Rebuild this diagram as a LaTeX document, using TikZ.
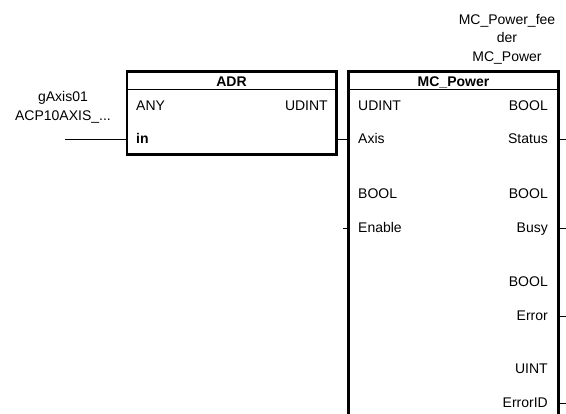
\documentclass[tikz,border=0pt]{standalone}
\usepackage{fontspec}
\setmainfont{Liberation Sans}
\begin{document}
\begin{tikzpicture}[x=1pt,y=-1pt,
  lbl/.style={inner sep=0pt,text height=10pt,text depth=0pt,font=\fontsize{14}{16}\selectfont},
  hdr/.style={lbl,font=\fontsize{14}{16}\selectfont\bfseries},
  fb/.style={draw,line width=1.4pt,inner sep=0pt},
  heavy/.style={line width=2.6pt},
  wire/.style={line width=0.9pt}]
\useasboundingbox (0,0) rectangle (566,414);
\clip (0,0) rectangle (566,414);
% ADR box
\node[fb,minimum width=209pt,minimum height=82pt] (adr) at (231.5,113) {};
\draw[heavy] (adr.north west) -- (adr.north east) -- (adr.south east) -- (adr.south west);
\draw[line width=1pt] (127,90) -- (336,90);
\node[hdr] (adrt) at (231.5,82) {ADR};
\node[lbl,anchor=west] (adrany) at (136,106) {ANY};
\node[lbl,anchor=east] (adrud) at (328,106) {UDINT};
\node[hdr,anchor=west] (adrin) at (136,139) {in};
% MC_Power box
\node[fb,minimum width=209pt,minimum height=360pt] (mc) at (453.5,252) {};
\draw[heavy] (mc.south west) -- (mc.north west) -- (mc.north east) -- (mc.south east);
\draw[line width=1.4pt] (mc.south west) -- (mc.north west);
\draw[line width=1pt] (349,90) -- (558,90);
\node[hdr] (mct) at (453.5,82) {MC\_Power};
% instance labels
\node[lbl] (i1) at (507,20) {MC\_Power\_fee};
\node[lbl] (i2) at (507,38) {der};
\node[lbl] (i3) at (507,57) {MC\_Power};
% left labels
\node[lbl] (g1) at (63,97) {gAxis01};
\node[lbl] (g2) at (63,116) {ACP10AXIS\_...};
% MC inputs
\node[lbl,anchor=west] (t1) at (358,106) {UDINT};
\node[lbl,anchor=west] (p1) at (358,139) {Axis};
\node[lbl,anchor=west] (t2) at (358,194) {BOOL};
\node[lbl,anchor=west] (p2) at (358,228) {Enable};
% MC outputs
\node[lbl,anchor=east] (o1t) at (548,106) {BOOL};
\node[lbl,anchor=east] (o1) at (548,139) {Status};
\node[lbl,anchor=east] (o2t) at (548,194) {BOOL};
\node[lbl,anchor=east] (o2) at (548,228) {Busy};
\node[lbl,anchor=east] (o3t) at (548,282) {BOOL};
\node[lbl,anchor=east] (o3) at (548,316) {Error};
\node[lbl,anchor=east] (o4t) at (548,369) {UINT};
\node[lbl,anchor=east] (o4) at (548,403) {ErrorID};
% connectors
\coordinate (src) at (65,139);
\coordinate (adrinp) at (127,139);
\coordinate (adrout) at (336,139);
\coordinate (mcax) at (349,139);
\coordinate (enfree) at (343,228);
\coordinate (mcen) at (349,228);
\draw[wire] (src) -- (adrinp);
\draw[wire] (adrout) -- (mcax);
\draw[wire] (enfree) -- (mcen);
\foreach \y/\n in {139/a,228/b,316/c,403/d}{
  \coordinate (so\n) at (558,\y);
  \coordinate (se\n) at (566,\y);
  \draw[wire] (so\n) -- (se\n);
}
\end{tikzpicture}
\end{document}
